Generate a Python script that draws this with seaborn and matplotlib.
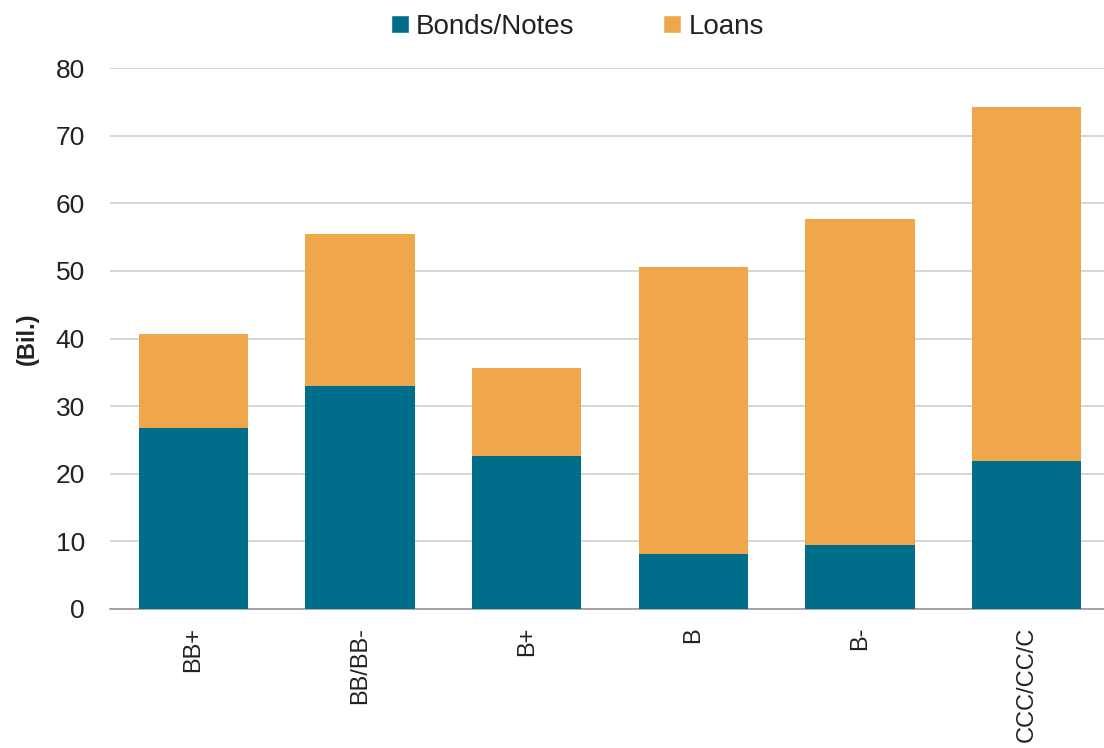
import matplotlib
matplotlib.use("Agg")
import matplotlib.pyplot as plt
from matplotlib.patches import Patch
import numpy as np
import pandas as pd
import seaborn as sns

# Issuance by rating bucket, billions
ratings = ["BB+", "BB/BB-", "B+", "B", "B-", "CCC/CC/C"]
bonds_notes = [26.8, 33.0, 22.6, 8.1, 9.5, 21.9]
loans = [13.9, 22.5, 13.0, 42.5, 48.2, 52.3]
y_ticks = [0, 10, 20, 30, 40, 50, 60, 70, 80]

TEAL = "#006E8A"
ORANGE = "#F0A74C"

sns.set_theme(style="white")
plt.rcParams["font.family"] = ["Liberation Sans", "DejaVu Sans"]

df = pd.DataFrame({
    "rating": ratings,
    "bonds": bonds_notes,
    "total": np.array(bonds_notes) + np.array(loans),
})

W, H = 1104, 748
fig = plt.figure(figsize=(W / 100, H / 100), dpi=100)
# plot area runs slightly past the right edge of the canvas
ax = fig.add_axes([110 / W, (H - 609) / H, 1000 / W, 541 / H])

# Stacked bars: full height in loan colour, bond share drawn over it
sns.barplot(data=df, x="rating", y="total", color=ORANGE, width=0.657,
            saturation=1, ax=ax, edgecolor="none", zorder=2)
sns.barplot(data=df, x="rating", y="bonds", color=TEAL, width=0.657,
            saturation=1, ax=ax, edgecolor="none", zorder=3)

ax.set_ylim(0, 80)
ax.set_xlim(-0.5, 5.5)
ax.set_yticks(y_ticks)
ax.yaxis.grid(True, color="#d0d0d0", linewidth=1.2, zorder=0)
ax.set_axisbelow(True)

for side in ["left", "right", "top"]:
    ax.spines[side].set_visible(False)
ax.spines["bottom"].set_color("#999999")
ax.spines["bottom"].set_linewidth(1.2)

ax.tick_params(axis="y", length=0, pad=18, labelsize=19, labelcolor="#222222")
ax.tick_params(axis="x", which="major", length=0, pad=13, labelsize=17,
               labelcolor="#222222")
ax.set_xticks(np.arange(-0.5, 6.0, 1.0), minor=True)
ax.tick_params(axis="x", which="minor", length=10, width=1.0, color="#999999")
plt.setp(ax.get_xticklabels(), rotation=90, va="top", ha="center")

ax.set_xlabel("")
ax.set_ylabel("(Bil.)", fontsize=17, fontweight="bold", color="#222222",
              labelpad=12)

handles = [Patch(facecolor=TEAL, label="Bonds/Notes"),
           Patch(facecolor=ORANGE, label="Loans")]
fig.legend(handles=handles, loc="center", bbox_to_anchor=(0.523, 0.964),
           ncol=2, frameon=False, fontsize=20, handlelength=0.65,
           handleheight=0.65, handletextpad=0.25, columnspacing=3.2,
           labelcolor="#222222")

fig.savefig("out.png", dpi=100)
